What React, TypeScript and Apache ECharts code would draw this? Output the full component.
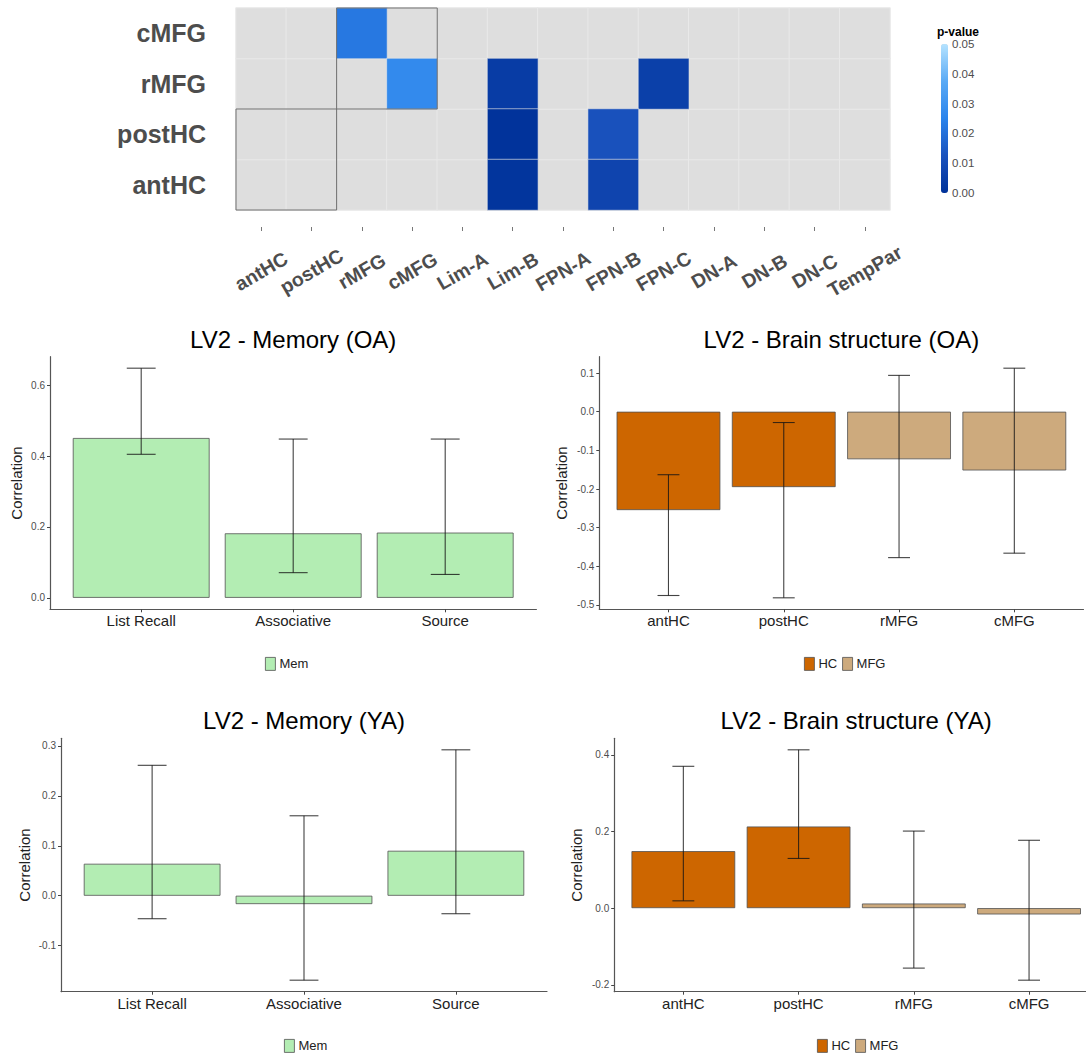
import React, { useEffect, useRef } from 'react';
import * as echarts from 'echarts';

// ---------- Heatmap data ----------
const heatCols = ['antHC', 'postHC', 'rMFG', 'cMFG', 'Lim-A', 'Lim-B', 'FPN-A', 'FPN-B', 'FPN-C', 'DN-A', 'DN-B', 'DN-C', 'TempPar'];
const heatRows = ['antHC', 'postHC', 'rMFG', 'cMFG'];
// [column, row, p-value]
const sigCells: [string, string, number][] = [
  ['rMFG', 'cMFG', 0.022],
  ['cMFG', 'rMFG', 0.027],
  ['Lim-B', 'rMFG', 0.004],
  ['FPN-C', 'rMFG', 0.0055],
  ['Lim-B', 'postHC', 0.0005],
  ['FPN-B', 'postHC', 0.012],
  ['Lim-B', 'antHC', 0.001],
  ['FPN-B', 'antHC', 0.007],
];
const boxes = [
  { cols: ['antHC', 'postHC'], rows: ['antHC', 'postHC'] },
  { cols: ['rMFG', 'cMFG'], rows: ['rMFG', 'cMFG'] },
];
const pMin = 0;
const pMax = 0.05;
const pStep = 0.01;
const pColors = ['#00329a', '#1a52bd', '#2b84ec', '#5aaaf5', '#b5e3ff'];

// ---------- Bar data ----------
const memCats = ['List Recall', 'Associative', 'Source'];
const memGroups = ['Mem', 'Mem', 'Mem'];
const memOA = [0.451, 0.182, 0.184];
const memOALo = [0.405, 0.071, 0.066];
const memOAHi = [0.648, 0.448, 0.448];
const memYA = [0.064, -0.0167, 0.09];
const memYALo = [-0.046, -0.169, -0.036];
const memYAHi = [0.261, 0.16, 0.292];

const brainCats = ['antHC', 'postHC', 'rMFG', 'cMFG'];
const brainGroups = ['HC', 'HC', 'MFG', 'MFG'];
const brainOA = [-0.2545, -0.195, -0.123, -0.152];
const brainOALo = [-0.4755, -0.4815, -0.3775, -0.366];
const brainOAHi = [-0.163, -0.028, 0.094, 0.1126];
const brainYA = [0.1487, 0.213, 0.012, -0.0165];
const brainYALo = [0.019, 0.1296, -0.1565, -0.188];
const brainYAHi = [0.37, 0.413, 0.201, 0.177];

const memTicksOA = [0, 0.2, 0.4, 0.6];
const brainTicksOA = [-0.5, -0.4, -0.3, -0.2, -0.1, 0, 0.1];
const memTicksYA = [-0.1, 0, 0.1, 0.2, 0.3];
const brainTicksYA = [-0.2, 0, 0.2, 0.4];

const groupColors: Record<string, string> = { Mem: '#b3edb3', HC: '#cd6600', MFG: '#cdaa7d' };

const FONT = 'Liberation Sans';

type Panel = {
  title: string;
  cats: string[];
  groups: string[];
  vals: number[];
  lo: number[];
  hi: number[];
  ticks: number[];
  rect: { left: number; top: number; width: number; height: number };
  titleY: number;
  legendLeft: number;
  legendTop: number;
  nameGap: number;
};

const panels: Panel[] = [
  { title: 'LV2 - Memory (OA)', cats: memCats, groups: memGroups, vals: memOA, lo: memOALo, hi: memOAHi, ticks: memTicksOA,
    rect: { left: 50, top: 356.7, width: 486.4, height: 252.6 }, titleY: 339, legendLeft: 265, legendTop: 657, nameGap: 26 },
  { title: 'LV2 - Brain structure (OA)', cats: brainCats, groups: brainGroups, vals: brainOA, lo: brainOALo, hi: brainOAHi, ticks: brainTicksOA,
    rect: { left: 599.3, top: 356.7, width: 484.2, height: 252.6 }, titleY: 339, legendLeft: 804, legendTop: 657, nameGap: 30 },
  { title: 'LV2 - Memory (YA)', cats: memCats, groups: memGroups, vals: memYA, lo: memYALo, hi: memYAHi, ticks: memTicksYA,
    rect: { left: 61, top: 738.3, width: 486, height: 253.4 }, titleY: 720.5, legendLeft: 284, legendTop: 1039, nameGap: 29 },
  { title: 'LV2 - Brain structure (YA)', cats: brainCats, groups: brainGroups, vals: brainYA, lo: brainYALo, hi: brainYAHi, ticks: brainTicksYA,
    rect: { left: 614.2, top: 738.3, width: 484, height: 253.4 }, titleY: 720.5, legendLeft: 817, legendTop: 1039, nameGap: 30 },
];

function buildOption() {
  const grids: any[] = [];
  const xAxes: any[] = [];
  const yAxes: any[] = [];
  const series: any[] = [];
  const titles: any[] = [];
  const legends: any[] = [];

  // Heatmap grid (0)
  grids.push({ left: 236, top: 8, width: 654, height: 202, outerBoundsMode: 'none', containLabel: false });
  xAxes.push({
    type: 'category', gridIndex: 0, data: heatCols, offset: 17,
    axisLine: { show: false },
    axisTick: { show: true, alignWithLabel: true, length: 4, lineStyle: { color: '#777', width: 1 } },
    axisLabel: { interval: 0, rotate: 30, align: 'center', verticalAlign: 'middle', margin: 44, fontSize: 19.5, fontWeight: 'bold', color: '#4d4d4d', fontFamily: FONT },
    splitLine: { show: false },
  });
  yAxes.push({
    type: 'category', gridIndex: 0, data: heatRows,
    axisLine: { show: false }, axisTick: { show: false },
    axisLabel: { fontSize: 25, fontWeight: 'bold', color: '#4d4d4d', margin: 30, fontFamily: FONT },
    splitLine: { show: false },
  });
  const allCells: number[][] = [];
  heatCols.forEach((_, i) => heatRows.forEach((__, j) => allCells.push([i, j, 1])));
  series.push({
    type: 'heatmap', xAxisIndex: 0, yAxisIndex: 0, data: allCells,
    itemStyle: { borderColor: '#e9e9e9', borderWidth: 1 },
    emphasis: { disabled: true }, silent: true,
  });
  series.push({
    type: 'heatmap', xAxisIndex: 0, yAxisIndex: 0,
    data: sigCells.map(([c, r, p]) => [heatCols.indexOf(c), heatRows.indexOf(r), p]),
    itemStyle: { borderColor: '#e4e4e4', borderWidth: 0.6 },
    emphasis: { disabled: true }, silent: true,
  });
  series.push({
    type: 'custom', xAxisIndex: 0, yAxisIndex: 0, z: 5, silent: true,
    encode: { x: [0, 2], y: [1, 3] },
    data: boxes.map((b) => [heatCols.indexOf(b.cols[0]), heatRows.indexOf(b.rows[0]), heatCols.indexOf(b.cols[b.cols.length - 1]), heatRows.indexOf(b.rows[b.rows.length - 1])]),
    renderItem: (params: any, api: any) => {
      const a = api.coord([api.value(0), api.value(1)]);
      const b = api.coord([api.value(2), api.value(3)]);
      const s = api.size([1, 1]);
      const x0 = Math.min(a[0], b[0]) - s[0] / 2;
      const x1 = Math.max(a[0], b[0]) + s[0] / 2;
      const y0 = Math.min(a[1], b[1]) - s[1] / 2;
      const y1 = Math.max(a[1], b[1]) + s[1] / 2;
      return { type: 'rect', shape: { x: x0, y: y0, width: x1 - x0, height: y1 - y0 }, style: { fill: 'none', stroke: '#6e6e6e', lineWidth: 1 } };
    },
  });

  // Colorbar axis grid (1)
  grids.push({ left: 941, top: 44, width: 7, height: 149, outerBoundsMode: 'none', containLabel: false });
  xAxes.push({ type: 'value', gridIndex: 1, min: 0, max: 1, show: false });
  yAxes.push({
    type: 'value', gridIndex: 1, min: pMin, max: pMax, interval: pStep, position: 'right',
    axisLine: { show: false },
    axisTick: { show: true, inside: true, length: 2, lineStyle: { color: '#ffffff', width: 1 } },
    axisLabel: { formatter: (v: number) => v.toFixed(2), fontSize: 11.5, color: '#4d4d4d', margin: 4, fontFamily: FONT },
    splitLine: { show: false },
  });
  titles.push({ text: 'p-value', left: 937, top: 32, textAlign: 'left', textVerticalAlign: 'middle', padding: 0,
    textStyle: { fontSize: 12, fontWeight: 'bold', color: '#000', fontFamily: FONT } });

  // Bar panels
  panels.forEach((p, k) => {
    const gi = k + 2;
    const n = p.cats.length;
    const all = [0, ...p.vals, ...p.lo, ...p.hi];
    const dMin = Math.min(...all);
    const dMax = Math.max(...all);
    const pad = (dMax - dMin) * 0.05;
    grids.push({ ...p.rect, outerBoundsMode: 'none', containLabel: false });
    const idx = p.cats.map((_, i) => i + 1);
    xAxes.push({
      type: 'value', gridIndex: gi, min: 0.4, max: n + 0.6,
      axisLine: { show: true, onZero: false, lineStyle: { color: '#555', width: 1.2 } },
      axisTick: { show: true, customValues: idx, length: 3, lineStyle: { color: '#444', width: 1 } },
      axisLabel: { customValues: idx, formatter: (v: number) => p.cats[Math.round(v) - 1] ?? '', fontSize: 15, color: '#222', margin: 4, fontFamily: FONT },
      splitLine: { show: false },
    });
    yAxes.push({
      type: 'value', gridIndex: gi, min: dMin - pad, max: dMax + pad,
      axisLine: { show: true, onZero: false, lineStyle: { color: '#555', width: 1.2 } },
      axisTick: { show: true, customValues: p.ticks, length: 3, lineStyle: { color: '#444', width: 1 } },
      axisLabel: { customValues: p.ticks, formatter: (v: number) => v.toFixed(1), fontSize: 10, color: '#4d4d4d', margin: 5, fontFamily: FONT },
      splitLine: { show: false },
      name: 'Correlation', nameLocation: 'middle', nameGap: p.nameGap,
      nameTextStyle: { fontSize: 15, color: '#222', fontFamily: FONT },
    });
    const groupNames = Array.from(new Set(p.groups));
    groupNames.forEach((g) => {
      series.push({
        type: 'bar', name: g, xAxisIndex: gi, yAxisIndex: gi,
        barWidth: '90%', barGap: '-100%',
        data: p.vals.map((v, i) => (p.groups[i] === g ? [i + 1, v] : null)).filter((d) => d !== null),
        itemStyle: { color: groupColors[g], borderColor: '#505050', borderWidth: 0.8 },
        emphasis: { disabled: true }, silent: true,
      });
    });
    series.push({
      type: 'custom', xAxisIndex: gi, yAxisIndex: gi, z: 4, silent: true,
      encode: { x: 0, y: [1, 2] },
      data: p.vals.map((_, i) => [i + 1, p.lo[i], p.hi[i]]),
      renderItem: (params: any, api: any) => {
        const x = api.value(0);
        const top = api.coord([x, api.value(2)]);
        const bot = api.coord([x, api.value(1)]);
        const half = api.size([0.19, 0])[0] / 2;
        const style = { stroke: 'rgba(20,20,20,0.8)', lineWidth: 1.1 };
        return {
          type: 'group',
          children: [
            { type: 'line', shape: { x1: top[0], y1: top[1], x2: bot[0], y2: bot[1] }, style },
            { type: 'line', shape: { x1: top[0] - half, y1: top[1], x2: top[0] + half, y2: top[1] }, style },
            { type: 'line', shape: { x1: bot[0] - half, y1: bot[1], x2: bot[0] + half, y2: bot[1] }, style },
          ],
        };
      },
    });
    titles.push({ text: p.title, left: p.rect.left + p.rect.width / 2, top: p.titleY, textAlign: 'center', textVerticalAlign: 'middle', padding: 0,
      textStyle: { fontSize: 24, fontWeight: 'normal', color: '#000', fontFamily: FONT } });
    legends.push({
      data: groupNames, left: p.legendLeft, top: p.legendTop, padding: 0, orient: 'horizontal',
      itemWidth: 10, itemHeight: 13, itemGap: 5, selectedMode: false, icon: 'rect',
      itemStyle: { borderColor: '#505050', borderWidth: 0.8 },
      textStyle: { fontSize: 13, color: '#222', fontFamily: FONT, padding: [0, 0, 0, -1] },
    });
  });

  return {
    animation: false,
    backgroundColor: '#ffffff',
    textStyle: { fontFamily: FONT },
    title: titles,
    legend: legends,
    grid: grids,
    xAxis: xAxes,
    yAxis: yAxes,
    visualMap: [
      {
        type: 'continuous', seriesIndex: 1, min: pMin, max: pMax,
        inRange: { color: pColors },
        orient: 'vertical', left: 941, top: 44, itemWidth: 7, itemHeight: 149, padding: 0,
        calculable: false, realtime: false, showLabel: false,
      },
      {
        type: 'continuous', seriesIndex: 0, min: 0, max: 1, show: false,
        inRange: { color: ['#dedede', '#dedede'] },
      },
    ],
    tooltip: { show: false },
    series,
  };
}

export default function App() {
  const ref = useRef<HTMLDivElement>(null);
  useEffect(() => {
    if (!ref.current) return;
    const chart = echarts.init(ref.current, null, { renderer: 'svg' });
    chart.setOption(buildOption() as any);
    return () => chart.dispose();
  }, []);
  return <div ref={ref} style={{ position: 'absolute', left: 0, top: 0, width: 1086, height: 1054, background: '#fff' }} />;
}
